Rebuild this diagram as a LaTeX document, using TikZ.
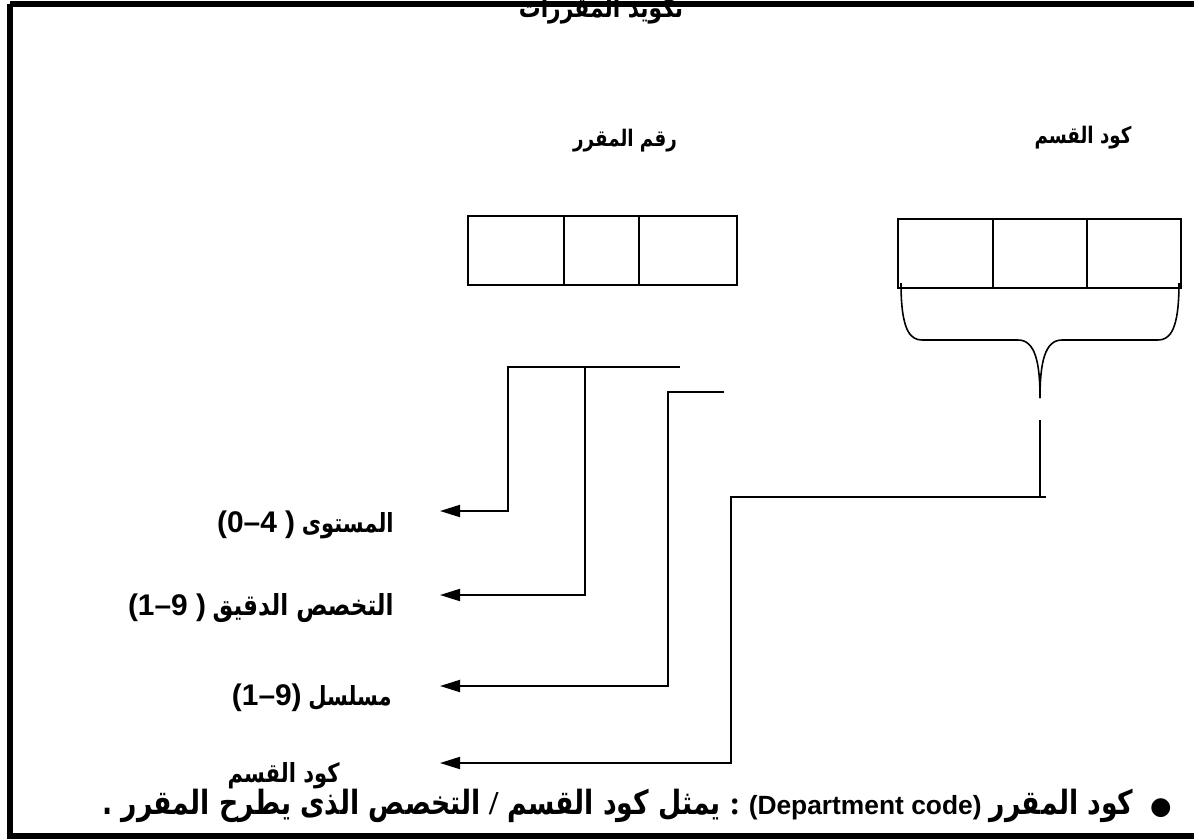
\documentclass[tikz,border=0pt]{standalone}
\usepackage{fontspec}
\setmainfont{Liberation Serif}
\newfontfamily\arabicfont[Script=Arabic,FakeStretch=0.8]{DejaVu Sans}
\newfontfamily\latinsans{Liberation Sans}
\newfontfamily\symfont{DejaVu Sans}
\TeXXeTstate=1
\usetikzlibrary{arrows.meta}
\newcommand\AR[1]{{\arabicfont\bfseries\beginR #1\endR}}
\newcommand\LS[1]{{\latinsans\bfseries #1}}
\begin{document}
\begin{tikzpicture}[x=0.02cm,y=-0.02cm,
  cell/.style={draw, line width=1.4pt, inner sep=0pt, outer sep=0pt, minimum height=1.38cm},
  conn/.style={line width=1.1pt},
  arr/.style={conn, -{Triangle[length=0.4cm,width=0.24cm]}},
  lbl/.style={anchor=east, inner sep=0pt, font=\fontsize{15}{18}\selectfont},
  head/.style={inner sep=0pt, font=\fontsize{13}{15}\selectfont},
  brace/.style={line width=0.9pt}
]
\useasboundingbox (0,0) rectangle (1194,839);
% frame
\draw[line width=3.4pt] (10,4) -- (1210,4) (10,4) -- (10,836) -- (1210,836);
% title
\node[inner sep=0pt, anchor=base, font=\fontsize{15.5}{18}\selectfont] (title) at (601,17) {\AR{تكويد المقررات}};
% headers
\node[head] (hnum) at (625,141) {\AR{رقم المقرر}};
\node[head] (hdep) at (1083,138) {\AR{كود القسم}};
% left cells
\node[cell, minimum width=1.92cm] (L1) at (516,250.5) {};
\node[cell, minimum width=1.50cm] (L2) at (601.5,250.5) {};
\node[cell, minimum width=1.96cm] (L3) at (688,250.5) {};
% right cells
\node[cell, minimum width=1.90cm] (R1) at (945.5,253.5) {};
\node[cell, minimum width=1.88cm] (R2) at (1040,253.5) {};
\node[cell, minimum width=1.88cm] (R3) at (1134,253.5) {};
% brace under right cells
\coordinate (bl) at (901,283);
\coordinate (br) at (1179,283);
\coordinate (btip) at (1040,398);
\draw[brace] (bl) .. controls (901,330) and (910,340) .. (922,340) -- (1018,340)
  .. controls (1035,340) and (1040,362) .. (btip);
\draw[brace] (br) .. controls (1179,330) and (1170,340) .. (1158,340) -- (1062,340)
  .. controls (1045,340) and (1040,362) .. (btip);
% labels
\node[lbl] (l1) at (394,525) {{\fontsize{17}{20}\selectfont\LS{(0–4 )}}\ \AR{المستوى}};
\node[lbl] (l2) at (394,608) {{\fontsize{17}{20}\selectfont\LS{(1–9 )}}\ {\fontsize{16.5}{19}\selectfont\AR{التخصص الدقيق}}};
\node[lbl] (l3) at (392,698) {{\fontsize{17}{20}\selectfont\LS{(1–9)}}\ \AR{مسلسل}};
\node[lbl] (l4) at (340,776) {\AR{كود القسم}};
% connector coordinates
\coordinate (s1) at (680,367);
\coordinate (j1) at (585,367);
\coordinate (s3) at (724,392);
\coordinate (s4) at (1040,420);
\coordinate (e4) at (1046,497);
\coordinate (t1) at (440,511);
\coordinate (t2) at (440,595);
\coordinate (t3) at (440,686);
\coordinate (t4) at (440,763);
% connectors
\draw[arr] (s1) -- (508,367) -- (508,511) -- (t1);
\draw[arr] (j1) -- (585,595) -- (t2);
\draw[arr] (s3) -- (668,392) -- (668,686) -- (t3);
\draw[conn] (s4) -- (1040,497);
\draw[arr] (e4) -- (731,497) -- (731,763) -- (t4);
% bottom note
\node[anchor=east, inner sep=0pt, font=\fontsize{19}{21}\selectfont] (note) at (1172,806)
  {\AR{التخصص الذى يطرح المقرر .}\ \textbf{/}\ \AR{يمثل كود القسم}\ \textbf{:}\ {\fontsize{15}{17}\selectfont\LS{(Department code)}}\ \AR{كود المقرر}\hspace{0.5em}{\symfont\fontsize{14}{16}\selectfont ●}};
\end{tikzpicture}
\end{document}
